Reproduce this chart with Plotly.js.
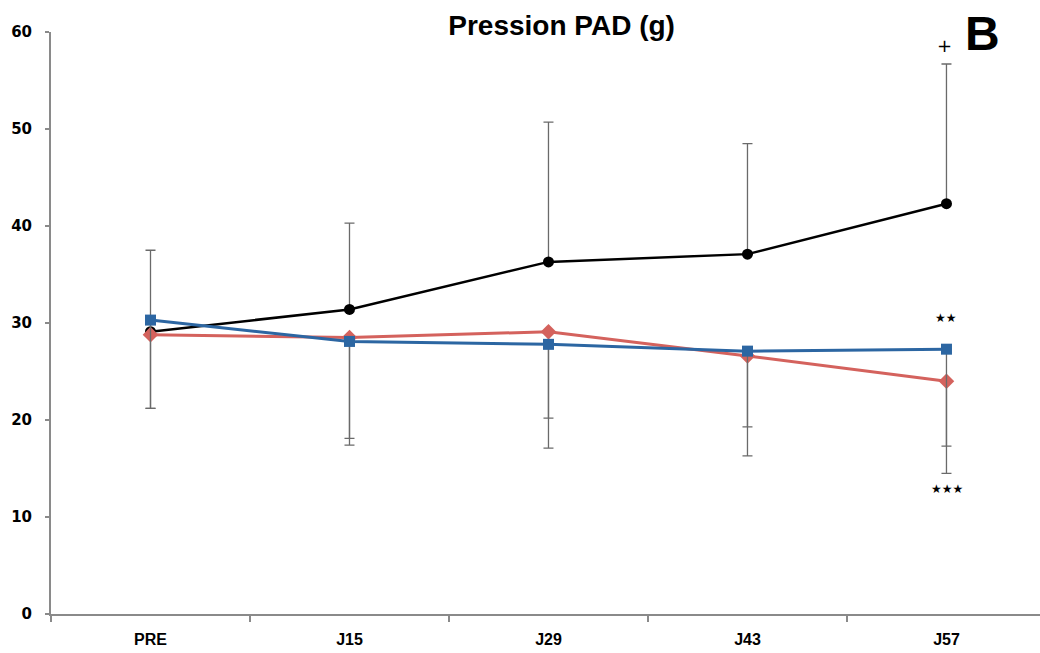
<!DOCTYPE html>
<html>
<head>
<meta charset="utf-8">
<script src="https://cdn.plot.ly/plotly-3.0.1.min.js"></script>
<style>html,body{margin:0;padding:0;background:#fff}#chart{width:1040px;height:653px}</style>
</head>
<body>
<div id="chart"></div>
<script>
const categories = ["PRE", "J15", "J29", "J43", "J57"];
const blackValues = [29.1, 31.4, 36.3, 37.1, 42.3];
const blackErrPlus = [8.4, 8.9, 14.4, 11.4, 14.4];
const redValues = [28.8, 28.5, 29.1, 26.6, 24.0];
const redErrMinus = [7.6, 11.1, 12.0, 10.3, 9.5];
const blueValues = [30.3, 28.1, 27.8, 27.1, 27.3];
const blueErrMinus = [9.1, 10.0, 7.6, 7.8, 10.0];
const zeros = [0, 0, 0, 0, 0];
const yTicks = [0, 10, 20, 30, 40, 50, 60];

const errStyle = {color: "#6a6a6a", thickness: 1.3, width: 5};

const traces = [
  {
    x: categories, y: blackValues, type: "scatter", mode: "lines+markers",
    line: {color: "#000000", width: 2.5},
    marker: {symbol: "circle", size: 11, color: "#000000"},
    error_y: Object.assign({type: "data", symmetric: false, array: blackErrPlus, arrayminus: zeros}, errStyle),
    showlegend: false
  },
  {
    x: categories, y: redValues, type: "scatter", mode: "lines+markers",
    line: {color: "#d4625d", width: 3},
    marker: {symbol: "diamond", size: 12, color: "#d4625d"},
    error_y: Object.assign({type: "data", symmetric: false, array: zeros, arrayminus: redErrMinus}, errStyle),
    showlegend: false
  },
  {
    x: categories, y: blueValues, type: "scatter", mode: "lines+markers",
    line: {color: "#2c66a2", width: 3},
    marker: {symbol: "square", size: 11, color: "#2c66a2"},
    error_y: Object.assign({type: "data", symmetric: false, array: zeros, arrayminus: blueErrMinus}, errStyle),
    showlegend: false
  }
];

const layout = {
  width: 1040, height: 653,
  margin: {l: 51, r: 0, t: 32, b: 39},
  paper_bgcolor: "#ffffff", plot_bgcolor: "#ffffff",
  font: {family: "Liberation Sans, Arial, sans-serif", color: "#000"},
  title: {
    text: "<b>Pression PAD (g)</b>",
    font: {size: 28, family: "Liberation Sans, Arial, sans-serif", color: "#000"},
    x: 0.54, xanchor: "center", y: 0.962, yanchor: "middle"
  },
  xaxis: {
    type: "category", range: [-0.5, 4.47],
    showgrid: false, zeroline: false,
    showline: true, linecolor: "#8a8a8a", linewidth: 2,
    ticks: "outside", tickson: "boundaries", ticklen: 6, tickcolor: "#8a8a8a", tickwidth: 1.5,
    tickfont: {size: 16, family: "Liberation Sans Narrow, Liberation Sans, Arial, sans-serif", color: "#000", weight: "bold"},
    ticklabelstandoff: 10
  },
  yaxis: {
    range: [0, 60], tickvals: yTicks,
    showgrid: false, zeroline: false,
    showline: true, linecolor: "#8a8a8a", linewidth: 2,
    ticks: "outside", ticklen: 4, tickcolor: "#8a8a8a", tickwidth: 1.5,
    tickfont: {size: 15, family: "DejaVu Sans, Verdana, sans-serif", color: "#000", weight: "bold"},
    ticklabelstandoff: 10
  },
  annotations: [
    {text: "<b>B</b>", xref: "paper", yref: "paper", x: 0.942, y: 0.997, xanchor: "center", yanchor: "middle",
     showarrow: false, font: {size: 48, family: "Liberation Sans, Arial, sans-serif", color: "#000"}},
    {text: "+", xref: "x", yref: "y", x: "J57", y: 58.6, showarrow: false, xshift: -2,
     font: {size: 18, family: "DejaVu Sans, sans-serif", color: "#000"}},
    {text: "★★", xref: "x", yref: "y", x: "J57", y: 30.5, showarrow: false,
     font: {size: 12, family: "DejaVu Sans, sans-serif", color: "#000"}},
    {text: "★★★", xref: "x", yref: "y", x: "J57", y: 12.9, showarrow: false, xshift: 1,
     font: {size: 12, family: "DejaVu Sans, sans-serif", color: "#000"}}
  ]
};

Plotly.newPlot("chart", traces, layout, {displayModeBar: false, staticPlot: true});
</script>
</body>
</html>
